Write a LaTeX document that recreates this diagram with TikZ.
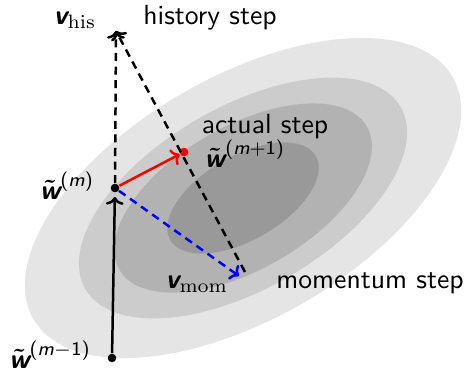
\documentclass[tikz,border=0pt]{standalone}
\usepackage{amsmath}
\usetikzlibrary{arrows.meta}
\newcommand{\bwt}{\text{\boldmath$\tilde{\text{\sffamily\bfseries\itshape w}}$}}
\newcommand{\bvv}{\text{\sffamily\bfseries\itshape v}}
\begin{document}
\begin{tikzpicture}[x=0.361pt,y=-0.361pt, font=\sffamily,
  dot/.style={circle, fill=black, inner sep=0pt, minimum size=3.1pt},
  arr/.style={line width=0.9pt, -{To[length=2.8pt,width=6.4pt]}},
  dsh/.style={dash pattern=on 2.9pt off 2pt},
  lbl/.style={inner sep=0pt}]
\useasboundingbox (0,0) rectangle (472,371);
\begin{scope}[shift={(243,198)}, rotate=30]
  \fill[gray!20] (0,0) ellipse [x radius=242, y radius=121];
  \fill[gray!40] (0,0) ellipse [x radius=182, y radius=91];
  \fill[gray!60] (0,0) ellipse [x radius=143, y radius=71.5];
  \fill[gray!80] (0,0) ellipse [x radius=84, y radius=42];
\end{scope}
\node[dot] (wm1) at (112,358) {};
\node[dot] (wm) at (115,188) {};
\node[dot, fill=red] (wp) at (184,152) {};
\coordinate (vhis) at (116,31);
\coordinate (vmom) at (239,276);
\coordinate (vmomd) at (245,272);
\draw[arr, shorten >=1.5pt] (wm1) -- (wm);
\draw[arr, dsh] (wm) -- (vhis);
\draw[arr, dsh] (vmomd) -- (vhis);
\draw[arr, dsh, blue] (wm) -- (vmom);
\draw[arr, red] (wm) -- (wp);
\node[lbl] (lhis) at (75,20) {$\bvv_{\mathrm{his}}$};
\node[lbl] (thist) at (210,18) {history step};
\node[lbl] (tact) at (265,127) {actual step};
\node[lbl] (lwp) at (245,154) {$\bwt^{\text{(\itshape m\upshape+1)}}$};
\node[lbl] (lwm) at (67,186) {$\bwt^{\text{(\itshape m\upshape)}}$};
\node[lbl] (lwm1) at (50,355) {$\bwt^{\text{(\itshape m\upshape$-$1)}}$};
\node[lbl] (lmom) at (197,284) {$\bvv_{\mathrm{mom}}$};
\node[lbl] (tmom) at (370,283) {momentum step};
\end{tikzpicture}
\end{document}
